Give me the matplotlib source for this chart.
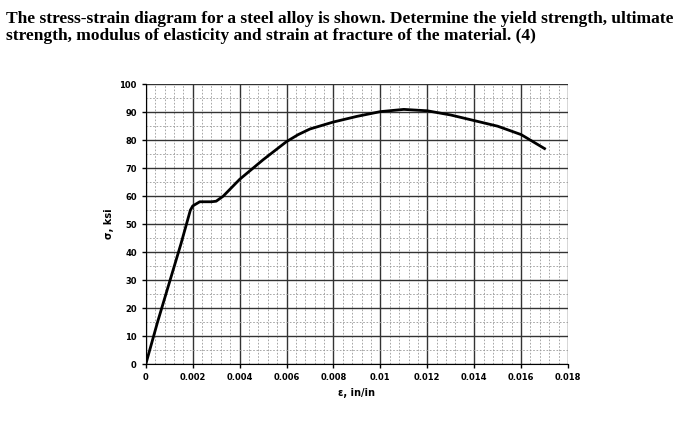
import matplotlib.pyplot as plt
import numpy as np

strain = [0, 0.0005, 0.001, 0.0015, 0.0019, 0.002, 0.0023, 0.0028, 0.003, 0.0033,
          0.004, 0.005, 0.006, 0.0065, 0.007, 0.008, 0.009, 0.010, 0.011, 0.012,
          0.013, 0.014, 0.015, 0.016, 0.017]
stress = [0, 15, 29, 43, 55, 56.5, 58, 58, 58.2, 60,
          66, 73, 79.5, 82, 84, 86.5, 88.5, 90.2, 91, 90.5,
          89, 87, 85, 82, 77]
xticks = [0, 0.002, 0.004, 0.006, 0.008, 0.01, 0.012, 0.014, 0.016, 0.018]
xticklabels = ["0", "0.002", "0.004", "0.006", "0.008", "0.01", "0.012", "0.014", "0.016", "0.018"]

fig = plt.figure(figsize=(6.91, 4.34), dpi=100)
fig.text(0.008, 0.975, "The stress-strain diagram for a steel alloy is shown. Determine the yield strength, ultimate\n"
         "strength, modulus of elasticity and strain at fracture of the material. (4)",
         family="Liberation Serif", fontsize=12.5, fontweight="bold", va="top", ha="left",
         linespacing=1.1)

ax = fig.add_axes([0.211, 0.161, 0.611, 0.645])
ax.plot(strain, stress, color="black", lw=2)
ax.set_xlim(0, 0.018)
ax.set_ylim(0, 100)
ax.set_xticks(xticks)
ax.set_xticklabels(xticklabels)
ax.set_yticks(range(0, 101, 10))
ax.set_xticks(np.arange(0, 0.018, 0.0004), minor=True)
ax.set_yticks(range(0, 101, 5), minor=True)
ax.grid(which="major", color="#333333", lw=1)
ax.grid(which="minor", color="#999999", lw=0.6, ls=(0, (2, 2)))
ax.tick_params(labelsize=6, width=1, length=3)
ax.tick_params(which="minor", length=0)
for lab in ax.get_xticklabels() + ax.get_yticklabels():
    lab.set_fontweight("bold")
for s in ["top", "right"]:
    ax.spines[s].set_visible(False)
ax.set_xlabel("ε, in/in", fontsize=7, fontweight="bold")
ax.set_ylabel("σ, ksi", fontsize=7, fontweight="bold")

fig.savefig("out.png")
